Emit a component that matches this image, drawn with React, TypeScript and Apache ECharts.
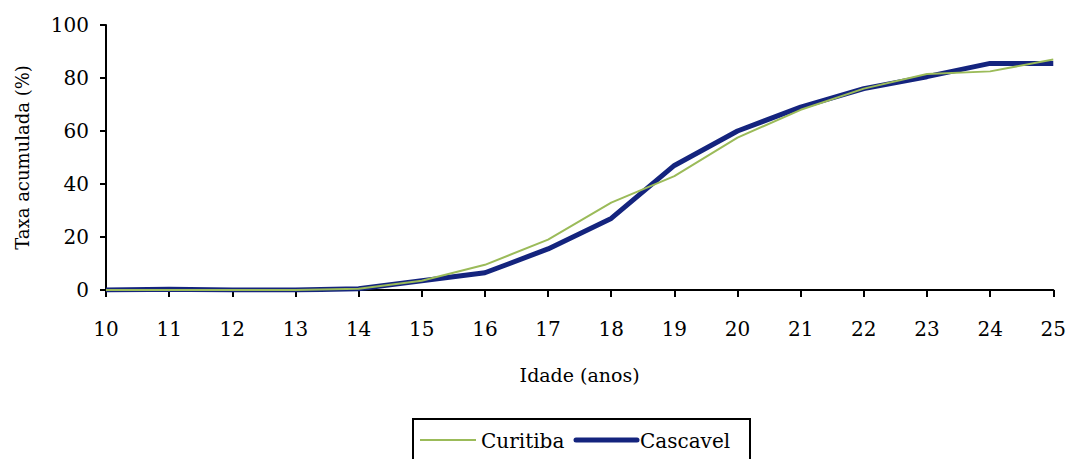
import React, { useEffect, useRef } from "react";
import * as echarts from "echarts";

const ages = [10, 11, 12, 13, 14, 15, 16, 17, 18, 19, 20, 21, 22, 23, 24, 25];
const curitiba = [0, 0, 0, 0, 0.5, 3.5, 9.5, 19, 33, 43, 57.5, 68, 76, 81.5, 82.5, 87];
const cascavel = [0, 0.3, 0, 0, 0.5, 3.5, 6.5, 15.5, 27, 47, 60, 69, 76, 80.5, 85.5, 85.5];
const yTicks = [0, 20, 40, 60, 80, 100];
const seriesNames = ["Curitiba", "Cascavel"];

const FONT = "DejaVu Serif";
const GREEN = "#9bbb59";
const NAVY = "#14247e";

export default function App() {
  const ref = useRef<HTMLDivElement>(null);
  useEffect(() => {
    if (!ref.current) return;
    const chart = echarts.init(ref.current, null, { renderer: "svg" });
    chart.setOption({
      animation: false,
      textStyle: { fontFamily: FONT, color: "#000" },
      grid: { left: 106, right: 14, top: 25, bottom: 169 },
      legend: { show: false, data: seriesNames },
      graphic: [
        {
          type: "rect",
          shape: { x: 413, y: 419, width: 337, height: 50 },
          style: { fill: "#fff", stroke: "#000", lineWidth: 2 },
          z: 10,
        },
        {
          type: "line",
          shape: { x1: 420, y1: 440, x2: 476, y2: 440 },
          style: { stroke: GREEN, lineWidth: 2 },
          z: 11,
        },
        {
          type: "text",
          x: 481,
          y: 441,
          style: { text: seriesNames[0], fontFamily: FONT, fontSize: 20, fill: "#000", verticalAlign: "middle" },
          z: 11,
        },
        {
          type: "line",
          shape: { x1: 576, y1: 440, x2: 637, y2: 440 },
          style: { stroke: NAVY, lineWidth: 5, lineCap: "round" },
          z: 11,
        },
        {
          type: "text",
          x: 640,
          y: 441,
          style: { text: seriesNames[1], fontFamily: FONT, fontSize: 20, fill: "#000", verticalAlign: "middle" },
          z: 11,
        },
      ],
      xAxis: {
        type: "value",
        min: 10,
        max: 25,
        interval: 1,
        name: "Idade (anos)",
        nameLocation: "middle",
        nameGap: 75,
        nameTextStyle: { fontFamily: FONT, fontSize: 19, color: "#000" },
        axisLine: { lineStyle: { color: "#000", width: 2 } },
        axisTick: { length: 7, lineStyle: { color: "#000", width: 2 } },
        axisLabel: { fontFamily: FONT, fontSize: 20, color: "#000", margin: 29 },
        splitLine: { show: false },
      },
      yAxis: {
        type: "value",
        min: 0,
        max: 100,
        interval: 20,
        name: "Taxa acumulada (%)",
        nameLocation: "middle",
        nameGap: 75,
        nameTextStyle: { fontFamily: FONT, fontSize: 18, color: "#000" },
        axisLine: { show: true, lineStyle: { color: "#000", width: 2 } },
        axisTick: { show: true, length: 6, lineStyle: { color: "#000", width: 2 } },
        axisLabel: {
          fontFamily: FONT,
          fontSize: 20,
          color: "#000",
          margin: 17,
          formatter: (v: number) => (yTicks.includes(v) ? String(v) : ""),
        },
        splitLine: { show: false },
      },
      series: [
        {
          name: seriesNames[0],
          type: "line",
          data: ages.map((a, i) => [a, curitiba[i]]),
          symbol: "none",
          lineStyle: { color: GREEN, width: 2 },
          itemStyle: { color: GREEN },
          z: 3,
        },
        {
          name: seriesNames[1],
          type: "line",
          data: ages.map((a, i) => [a, cascavel[i]]),
          symbol: "none",
          lineStyle: { color: NAVY, width: 5 },
          itemStyle: { color: NAVY },
          z: 2,
        },
      ],
    });
    return () => chart.dispose();
  }, []);
  return (
    <div
      ref={ref}
      style={{ position: "absolute", left: 0, top: 0, width: 1069, height: 459, background: "#fff" }}
    />
  );
}
